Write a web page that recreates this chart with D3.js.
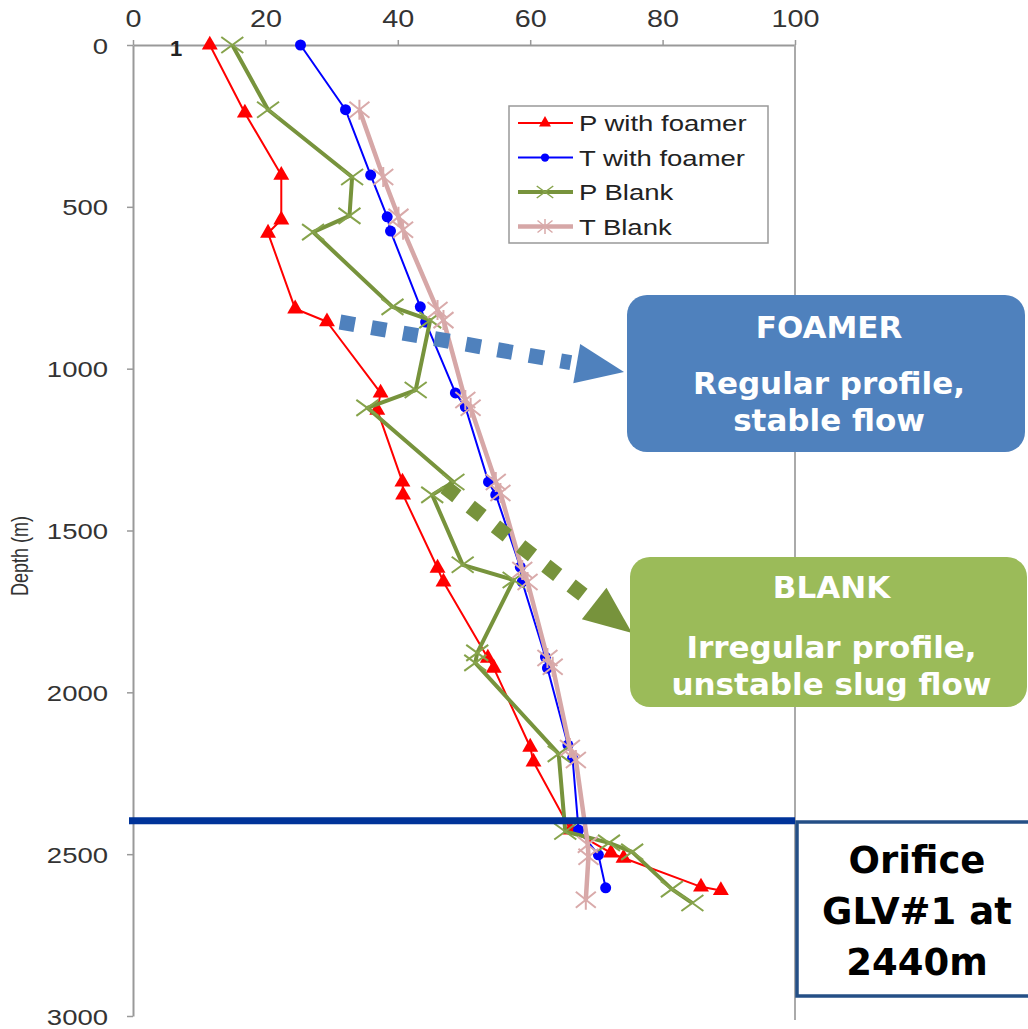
<!DOCTYPE html>
<html>
<head>
<meta charset="utf-8">
<script src="https://cdn.jsdelivr.net/npm/d3@7"></script>
<style>
  body { margin: 0; background: #fff; }
  svg { display: block; }
</style>
</head>
<body>
<div id="chart"></div>
<script>
// values: depth in m, reading on the 0-100 axis
const pFoamerDepth = [0, 210, 402, 540, 581, 815, 855, 1075, 1128, 1350, 1390, 1616, 1659, 1894, 1925, 2169, 2215, 2425, 2496, 2512, 2601, 2612];
const pFoamerVal   = [11.6, 16.9, 22.4, 22.4, 20.4, 24.5, 29.3, 37.4, 36.9, 40.7, 40.8, 46.0, 46.9, 53.6, 54.5, 60.0, 60.5, 66.1, 72.2, 74.1, 85.8, 88.8];

const tFoamerDepth = [0, 200, 402, 531, 575, 809, 856, 1075, 1118, 1350, 1390, 1613, 1659, 1891, 1925, 2163, 2203, 2425, 2502, 2604];
const tFoamerVal   = [25.3, 32.1, 35.9, 38.4, 38.9, 43.4, 44.2, 48.7, 50.2, 53.7, 54.8, 58.5, 58.8, 62.3, 62.6, 65.7, 66.4, 67.3, 70.3, 71.4];

const pBlankDepth = [0, 200, 408, 528, 578, 809, 850, 1066, 1121, 1350, 1390, 1606, 1653, 1878, 1909, 2190, 2430, 2465, 2493, 2608, 2651];
const pBlankVal   = [15.0, 20.4, 33.1, 32.7, 27.2, 39.2, 44.9, 42.7, 35.4, 48.4, 45.2, 49.8, 57.5, 52.0, 51.7, 64.3, 65.3, 71.9, 75.4, 81.4, 84.5];

const tBlankDepth = [200, 408, 531, 571, 819, 850, 1097, 1121, 1350, 1384, 1622, 1659, 1894, 1921, 2172, 2209, 2471, 2508, 2641];
const tBlankVal   = [34.2, 37.8, 40.1, 40.8, 46.0, 46.9, 50.2, 51.0, 54.8, 55.5, 58.8, 59.6, 62.6, 63.4, 66.0, 66.9, 68.7, 68.8, 68.4];

const seriesNames = ["P with foamer", "T with foamer", "P Blank", "T Blank"];
const xTicks = [0, 20, 40, 60, 80, 100];
const yTicks = [0, 500, 1000, 1500, 2000, 2500, 3000];
const orificeDepth = 2397; // where the blue line sits in the picture

const W = 1028, H = 1029;
const svg = d3.select("#chart").append("svg")
  .attr("width", W).attr("height", H)
  .style("background", "#fff");

const x = d3.scaleLinear().domain([0, 100]).range([133, 795]);
const y = d3.scaleLinear().domain([0, 3000]).range([45, 1016]);

const axisFont = "'Liberation Sans', Arial, sans-serif";

// top axis
svg.append("g")
  .attr("transform", `translate(0,${y(0)})`)
  .call(d3.axisTop(x).tickValues(xTicks).tickSize(5).tickSizeOuter(0))
  .call(g => g.select(".domain").attr("stroke", "#999").attr("stroke-width", 2))
  .call(g => g.selectAll(".tick line").attr("stroke", "#999").attr("stroke-width", 1.5))
  .call(g => g.selectAll(".tick text")
    .attr("y", null).attr("dy", null)
    .attr("transform", "translate(0,-18) scale(1.25,1)")
    .attr("font-size", 23).attr("font-family", axisFont).attr("fill", "#333"));

// left axis
svg.append("g")
  .attr("transform", `translate(${x(0)},0)`)
  .call(d3.axisLeft(y).tickValues(yTicks).tickFormat(d3.format("d")).tickSize(6).tickSizeOuter(0))
  .call(g => g.select(".domain").attr("stroke", "#999").attr("stroke-width", 2))
  .call(g => g.selectAll(".tick line").attr("stroke", "#999").attr("stroke-width", 1.5))
  .call(g => g.selectAll(".tick text")
    .attr("x", null).attr("dy", null)
    .attr("text-anchor", "end")
    .attr("transform", "translate(-25,8) scale(1.25,1)")
    .attr("font-size", 22).attr("font-family", axisFont).attr("fill", "#333"));

// right border of the plot
svg.append("line")
  .attr("x1", x(100)).attr("x2", x(100))
  .attr("y1", y(0)).attr("y2", y(3000) + 4)
  .attr("stroke", "#aaa").attr("stroke-width", 2);

svg.append("text")
  .attr("transform", "translate(28,556) scale(1.3,1) rotate(-90)")
  .attr("text-anchor", "middle")
  .attr("font-size", 18).attr("font-family", axisFont).attr("fill", "#333")
  .text("Depth (m)");

// stray label near the origin
svg.append("text")
  .attr("x", 176).attr("y", 56)
  .attr("text-anchor", "middle")
  .attr("font-size", 22).attr("font-weight", "bold").attr("font-family", axisFont).attr("fill", "#222")
  .text("1");

const markX = "M-11,-8L11,8M-11,8L11,-8";
const markStar = "M-10,-8L10,8M-10,8L10,-8M0,-10L0,10";

const series = [
  {name: seriesNames[0], depth: pFoamerDepth, val: pFoamerVal, color: "#ff0000", width: 2, mark: "tri"},
  {name: seriesNames[1], depth: tFoamerDepth, val: tFoamerVal, color: "#0000ff", width: 2, mark: "dot"},
  {name: seriesNames[2], depth: pBlankDepth, val: pBlankVal, color: "#77933c", width: 4, mark: "x"},
  {name: seriesNames[3], depth: tBlankDepth, val: tBlankVal, color: "#d6a7a7", width: 4.5, mark: "star"}
];

function drawMark(sel, s) {
  if (s.mark === "tri") {
    sel.append("path").attr("d", d3.symbol(d3.symbolTriangle, 110)()).attr("fill", s.color);
  } else if (s.mark === "dot") {
    sel.append("circle").attr("r", 5.5).attr("fill", s.color);
  } else if (s.mark === "x") {
    sel.append("path").attr("d", markX).attr("stroke", "#86a34b").attr("stroke-width", 2).attr("fill", "none");
  } else {
    sel.append("path").attr("d", markStar).attr("stroke", "#d9aaaa").attr("stroke-width", 2).attr("fill", "none");
  }
}

const line = d3.line().x(d => x(d[1])).y(d => y(d[0]));

series.forEach(s => {
  const pts = s.depth.map((d, i) => [d, s.val[i]]);
  const g = svg.append("g");
  g.append("path")
    .attr("d", line(pts))
    .attr("fill", "none")
    .attr("stroke", s.color)
    .attr("stroke-width", s.width)
    .attr("stroke-linejoin", "round");
  g.selectAll("g.m").data(pts).join("g")
    .attr("class", "m")
    .attr("transform", d => `translate(${x(d[1])},${y(d[0])})`)
    .each(function () { drawMark(d3.select(this), s); });
});

// legend
const leg = svg.append("g").attr("transform", "translate(509,106)");
leg.append("rect").attr("width", 259).attr("height", 137)
  .attr("fill", "#fff").attr("stroke", "#999").attr("stroke-width", 1.5);
series.forEach((s, i) => {
  const row = leg.append("g").attr("transform", `translate(0,${17 + i * 34.5})`);
  row.append("line").attr("x1", 9).attr("x2", 64).attr("stroke", s.color).attr("stroke-width", s.width);
  drawMark(row.append("g").attr("transform", "translate(36,0) scale(0.75)"), s);
  row.append("text")
    .attr("transform", "translate(70,8) scale(1.25,1)")
    .attr("font-size", 22).attr("font-family", axisFont).attr("fill", "#222")
    .text(s.name);
});

// orifice depth line
svg.append("line")
  .attr("x1", x(0) - 4).attr("x2", x(100))
  .attr("y1", y(orificeDepth)).attr("y2", y(orificeDepth))
  .attr("stroke", "#003399").attr("stroke-width", 7);

// dotted arrows
function dotArrow(x1, y1, x2, y2, color) {
  const ang = Math.atan2(y2 - y1, x2 - x1);
  const headLen = 48, headHalf = 20;
  const bx = x2 - headLen * Math.cos(ang), by = y2 - headLen * Math.sin(ang);
  svg.append("line")
    .attr("x1", x1).attr("y1", y1).attr("x2", bx - 6 * Math.cos(ang)).attr("y2", by - 6 * Math.sin(ang))
    .attr("stroke", color).attr("stroke-width", 15).attr("stroke-dasharray", "15,17");
  const px = -Math.sin(ang), py = Math.cos(ang);
  svg.append("path")
    .attr("d", `M${x2},${y2}L${bx + px * headHalf},${by + py * headHalf}L${bx - px * headHalf},${by - py * headHalf}Z`)
    .attr("fill", color);
}
dotArrow(340, 322, 624, 372, "#4f81bd");
dotArrow(445, 487, 632, 633, "#77933c");

// callout boxes
const boxFont = "'DejaVu Sans', Verdana, sans-serif";
function callout(bx, by, bw, bh, fill, lines) {
  svg.append("rect").attr("x", bx).attr("y", by).attr("width", bw).attr("height", bh)
    .attr("rx", 20).attr("fill", fill);
  lines.forEach(l => {
    svg.append("text")
      .attr("x", bx + bw / 2 + 3).attr("y", l[1])
      .attr("text-anchor", "middle")
      .attr("font-size", 31).attr("font-weight", "bold").attr("font-family", boxFont).attr("fill", "#fff")
      .text(l[0]);
  });
}
callout(627, 295, 398, 157, "#4f81bd", [["FOAMER", 338], ["Regular profile,", 394], ["stable flow", 431]]);
callout(630, 557, 397, 150, "#9bbb59", [["BLANK", 598], ["Irregular profile,", 658], ["unstable slug flow", 695]]);

// orifice note
svg.append("rect").attr("x", 797).attr("y", 822).attr("width", 240).attr("height", 174)
  .attr("fill", "#fff").attr("stroke", "#244f86").attr("stroke-width", 3.5);
[["Orifice", 873], ["GLV#1 at", 924], ["2440m", 975]].forEach(l => {
  svg.append("text")
    .attr("x", 917).attr("y", l[1])
    .attr("text-anchor", "middle")
    .attr("font-size", 37).attr("font-weight", "bold").attr("font-family", boxFont).attr("fill", "#000")
    .text(l[0]);
});
</script>
</body>
</html>
